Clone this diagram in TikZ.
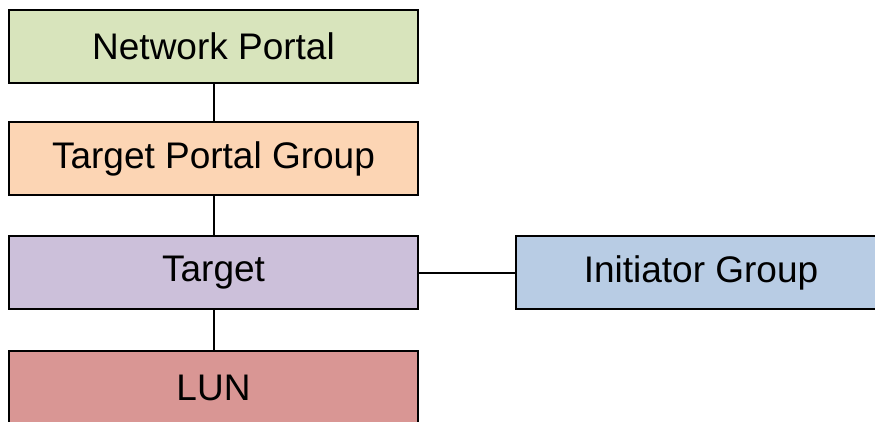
\documentclass[tikz,border=0pt]{standalone}
\usepackage{fontspec}
\setmainfont{Liberation Sans}
\usetikzlibrary{positioning}
\definecolor{portalgreen}{HTML}{D8E4BC}
\definecolor{groupbeige}{HTML}{FCD5B4}
\definecolor{targetlilac}{HTML}{CCC0DA}
\definecolor{initblue}{HTML}{B8CCE4}
\definecolor{lunred}{HTML}{D99694}
\begin{document}
\begin{tikzpicture}[
                x=1pt, y=-1pt,
                box/.style={rectangle, draw, line width=2pt, minimum width=409pt, minimum height=73pt, inner sep=0pt,
                            outer sep=0pt, font=\fontsize{37}{44}\selectfont},
                link/.style={line width=2pt},
            ]
            \useasboundingbox (0,0) rectangle (875,421);
            \clip (0,0) rectangle (875,421);
            % Nodes
            \node[box, fill=portalgreen, anchor=north west] (portal) at (9,10) {Network Portal};
            \node[box, fill=groupbeige]  (tpg)       [below=39pt of portal] {Target Portal Group};
            \node[box, fill=targetlilac] (target)    [below=41pt of tpg]    {Target};
            \node[box, fill=lunred]      (lun)       [below=42pt of target] {LUN};
            \node[box, fill=initblue, minimum width=370pt] (initiator) [right=98pt of target] {Initiator Group};

            %Lines
            \draw[link] (portal.south) -- (tpg.north);
            \draw[link] (tpg.south) -- (target.north);
            \draw[link] (target.south) -- (lun.north);
            \draw[link] (target.east) -- (initiator.west);
        \end{tikzpicture}
\end{document}
